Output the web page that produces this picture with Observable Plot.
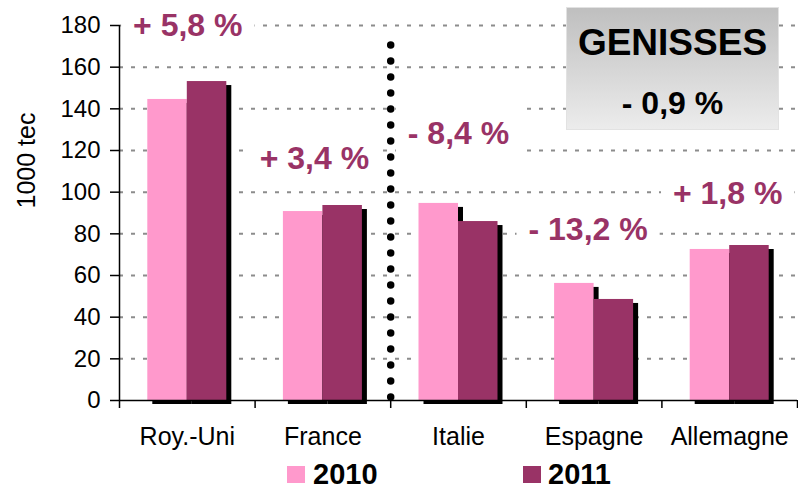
<!DOCTYPE html>
<html>
<head>
<meta charset="utf-8">
<script src="https://cdn.jsdelivr.net/npm/d3@7"></script>
<script src="https://cdn.jsdelivr.net/npm/@observablehq/plot@0.6"></script>
<style>
  html, body { margin: 0; padding: 0; background: #fff; }
  #wrap { position: relative; width: 798px; height: 488px; font-family: "Liberation Sans", Arial, sans-serif; }
  #chart svg { display: block; }
  .box { position: absolute; left: 566px; top: 7px; width: 211px; height: 121px;
         background: linear-gradient(#bfbfbf, #ececec); border: 1px solid #e2e2e2; }
  .box div { position: absolute; left: 0; width: 100%; text-align: center; font-weight: bold; color: #000; white-space: nowrap; }
  .leg { position: absolute; font-weight: bold; font-size: 29px; line-height: 29px; color: #000; white-space: nowrap; }
  .sw { position: absolute; width: 18px; height: 17px; }
</style>
</head>
<body>
<div id="wrap">
  <div id="chart"></div>
  <div class="box">
    <div id="boxTitle" style="top:15.7px; font-size:37px; line-height:37px;"></div>
    <div id="boxValue" style="top:78.9px; font-size:32px; line-height:32px;"></div>
  </div>
  <div id="legend"></div>
</div>
<script>
// ---- data ----
const categories = ["Roy.-Uni", "France", "Italie", "Espagne", "Allemagne"];
const years = ["2010", "2011"];
const values2010 = [144.5, 90.7, 94.6, 56.2, 72.5];
const values2011 = [153.1, 93.6, 85.9, 48.5, 74.4];
const changes = ["+ 5,8 %", "+ 3,4 %", "- 8,4 %", "- 13,2 %", "+ 1,8 %"];
const yTicks = [0, 20, 40, 60, 80, 100, 120, 140, 160, 180];
const yLabel = "1000 tec";
const boxTitle = "GENISSES";
const boxValue = "- 0,9 %";

// ---- layout (not data) ----
const colors = {"2010": "#FF99CC", "2011": "#993366"};
const labelColor = "#993366";
const barW = 0.2913;            // fraction of a category band
const separatorAfter = 2;       // dotted line between France and Italie
const labelOffsets = [[0.5, -56], [-8.5, -46.5], [0, -70], [-6, -53.5], [-2, -51.5]];
const legendPos = [[287, 313], [523, 548]];
const font = "Liberation Sans, Arial, sans-serif";

const rows = [];
categories.forEach((c, i) => {
  [values2010[i], values2011[i]].forEach((v, j) => {
    rows.push({cat: c, i, year: years[j], value: v, x1: i + 0.5 + (j - 1) * barW, x2: i + 0.5 + j * barW});
  });
});
const labels = categories.map((c, i) => ({
  i, text: changes[i], top: Math.max(values2010[i], values2011[i])
}));

const chart = Plot.plot({
  width: 798,
  height: 488,
  marginLeft: 119,
  marginRight: 1,
  marginTop: 25,
  marginBottom: 88,
  style: {fontFamily: font, background: "transparent", overflow: "visible"},
  x: {type: "linear", domain: [0, categories.length], axis: null},
  y: {domain: [0, 180], axis: null},
  marks: [
    Plot.ruleY(yTicks.filter(t => t > 0), {stroke: "#8c8c8c", strokeWidth: 2, strokeDasharray: "4,8"}),
    Plot.ruleX([separatorAfter], {y1: 1.5, y2: 171, stroke: "#000", strokeWidth: 7.5, strokeDasharray: "0,16", strokeLinecap: "round"}),
    // shadows
    Plot.rectY(rows, {x1: "x1", x2: "x2", y1: 0, y2: "value", fill: "#000", dx: 5, dy: 4}),
    // bars
    Plot.rectY(rows, {x1: "x1", x2: "x2", y1: 0, y2: "value", fill: d => colors[d.year]}),
    // axes
    Plot.axisY({ticks: yTicks, tickSize: 9, tickPadding: 10, fontSize: 24, tickFormat: d => d, label: null, strokeWidth: 1.5, color: "#000"}),
    Plot.axisX({ticks: d3.range(0, categories.length + 1), tickSize: 8, tickFormat: () => "", label: null, strokeWidth: 1.5, color: "#000"}),
    Plot.ruleX([0], {y1: 0, y2: 180, stroke: "#000", strokeWidth: 1.5}),
    Plot.ruleY([0], {stroke: "#000", strokeWidth: 1.5}),
    Plot.text(categories, {x: (d, i) => i + 0.5, y: () => 0, text: d => d, dy: 27, lineAnchor: "top", fontSize: 25, fill: "#000"}),
    Plot.text([yLabel], {frameAnchor: "left", text: d => d, rotate: -90, dx: -93, dy: -4.5, fontSize: 25, fill: "#000"}),
    // change labels, one mark each for individual pixel offsets
    ...labels.map((l, k) => Plot.text([l], {x: d => d.i + 0.5, y: "top", text: "text", className: "chg",
      dx: labelOffsets[k][0], dy: labelOffsets[k][1], fontSize: 32, fontWeight: "bold", fill: labelColor}))
  ]
});
document.getElementById("chart").appendChild(chart);

// white label backgrounds (like Excel data-label fills)
d3.select(chart).selectAll("g.chg text").each(function() {
  const b = this.getBBox();
  const padX = 12, padY = 8;
  d3.select(this.parentNode).insert("rect", () => this)
    .attr("transform", this.getAttribute("transform"))
    .attr("x", b.x - padX).attr("y", b.y - padY)
    .attr("width", b.width + 2 * padX).attr("height", b.height + 2 * padY)
    .attr("fill", "#fff");
});

document.getElementById("boxTitle").textContent = boxTitle;
document.getElementById("boxValue").textContent = boxValue;

const legend = document.getElementById("legend");
years.forEach((y, j) => {
  const sw = document.createElement("div");
  sw.className = "sw";
  sw.style.left = legendPos[j][0] + "px";
  sw.style.top = "466px";
  sw.style.background = colors[y];
  legend.appendChild(sw);
  const t = document.createElement("div");
  t.className = "leg";
  t.style.left = legendPos[j][1] + "px";
  t.style.top = "459.5px";
  t.textContent = y;
  legend.appendChild(t);
});
</script>
</body>
</html>
